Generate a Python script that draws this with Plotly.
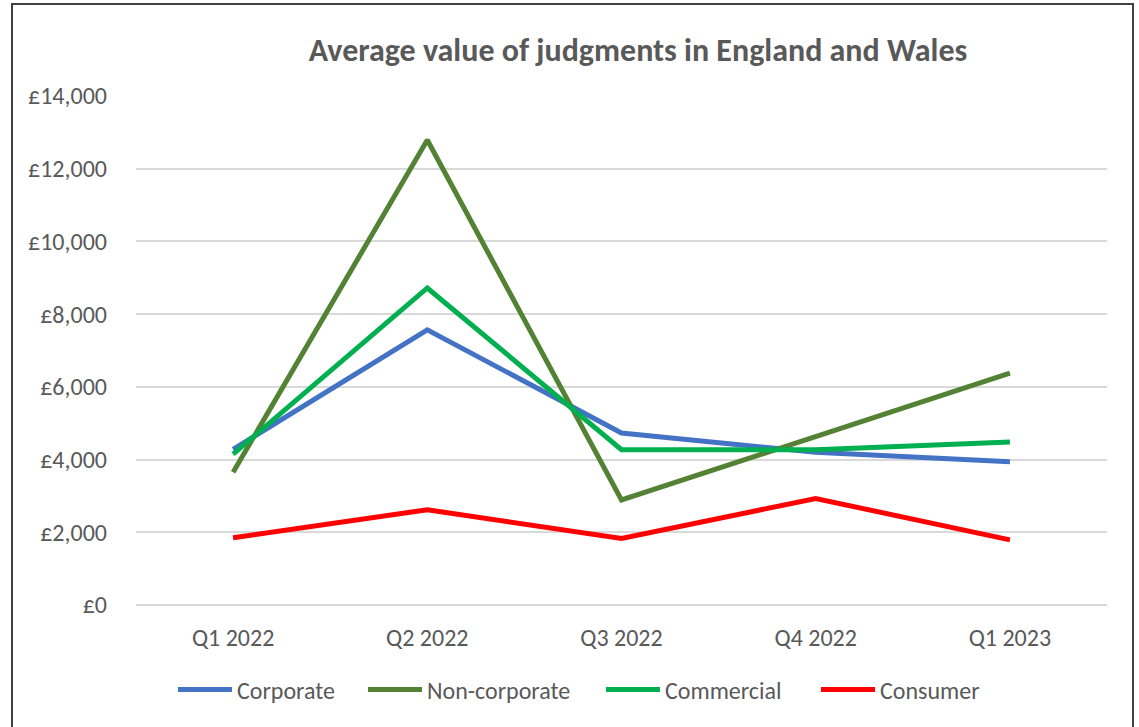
import plotly.graph_objects as go

quarters = ["Q1 2022", "Q2 2022", "Q3 2022", "Q4 2022", "Q1 2023"]
corporate = [4280, 7570, 4730, 4200, 3940]
non_corporate = [3650, 12790, 2890, 4650, 6380]
commercial = [4150, 8720, 4270, 4270, 4480]
consumer = [1850, 2620, 1830, 2930, 1790]

series = [
    ("Corporate", corporate, "#4472C4"),
    ("Non-corporate", non_corporate, "#548235"),
    ("Commercial", commercial, "#00B050"),
    ("Consumer", consumer, "#FF0000"),
]
legend_text_x = [237, 427, 665, 880]  # pixel where each legend label starts

font_fam = "Carlito, Calibri, Liberation Sans Narrow, Open Sans, sans-serif"

PL, PR, PT, PB = 136, 1107, 96, 605
pw, ph = PR - PL, PB - PT

fig = go.Figure()
legend_layouts = {}
for i, (name, vals, col) in enumerate(series):
    lg = "legend" if i == 0 else f"legend{i + 1}"
    fig.add_trace(go.Scatter(x=quarters, y=vals, name=name, mode="lines",
                             line=dict(color=col, width=5), legend=lg))
    legend_layouts[lg] = dict(
        orientation="h", x=(legend_text_x[i] - 64 - PL) / pw, xanchor="left",
        y=-(690 - PB) / ph, yanchor="middle",
        font=dict(size=24), itemwidth=54, bgcolor="rgba(0,0,0,0)")

fig.update_layout(
    width=1139, height=727,
    margin=dict(l=PL, r=1139 - PR, t=PT, b=727 - PB, autoexpand=False),
    paper_bgcolor="white", plot_bgcolor="white",
    font=dict(family=font_fam, color="#595959", size=24),
    title=dict(text="<b>Average value of judgments in England and Wales</b>",
               x=638 / 1139, xanchor="center", y=1 - 50 / 727, yanchor="middle",
               font=dict(size=32, color="#595959")),
    xaxis=dict(showgrid=False, showline=False, ticks="", tickfont=dict(size=24),
               range=[-0.5, 4.5], automargin=False, ticklabelstandoff=16),
    yaxis=dict(range=[0, 14000], dtick=2000, tickprefix="£", tickformat=",d",
               showgrid=True, gridcolor="#D9D9D9", gridwidth=1.5,
               zeroline=True, zerolinecolor="#D9D9D9", zerolinewidth=1.5,
               ticks="", ticklen=0, tickfont=dict(size=24), automargin=False,
               ticklabelstandoff=28),
    showlegend=True,
    **legend_layouts,
)
fig.add_shape(type="rect", xref="paper", yref="paper",
              x0=(12 - PL) / pw, x1=(1133 - PL) / pw,
              y0=(PB - 735) / ph, y1=(PB - 4) / ph,
              line=dict(color="#404040", width=2), fillcolor="rgba(0,0,0,0)", layer="below")
fig.write_html("out.html", config={"displayModeBar": False},
               post_script="document.body.style.margin='0';")
